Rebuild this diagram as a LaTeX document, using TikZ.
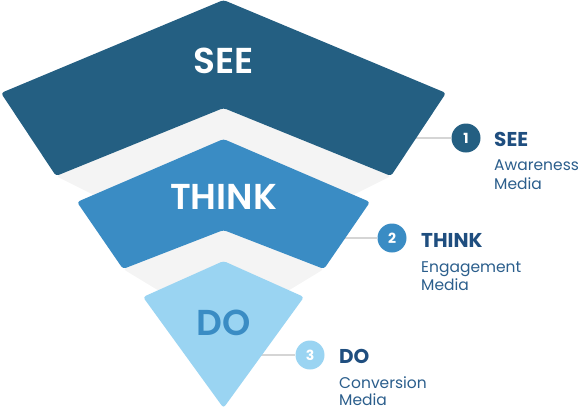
\documentclass[tikz,border=0pt]{standalone}
\usepackage{fontspec}
\setmainfont{Poppins}
\IfFontExistsTF{Poppins SemiBold}{\newfontfamily\semib{Poppins SemiBold}}{\IfFontExistsTF{Poppins Medium}{\newfontfamily\semib{Poppins Medium}}{\newcommand\semib{\bfseries}}}
\definecolor{seec}{HTML}{245F82}
\definecolor{thinkc}{HTML}{3A8CC4}
\definecolor{doc}{HTML}{9AD4F2}
\definecolor{bandc}{HTML}{F4F4F4}
\definecolor{titlec}{HTML}{1F4E7F}
\definecolor{subc}{HTML}{2B5E8C}
\definecolor{leadc}{HTML}{D5D5D5}
\tikzset{
  layer/.style={rounded corners=3pt},
  bigtext/.style={font=\fontsize{36}{40}\selectfont\semib, inner sep=0pt},
  numcirc/.style={circle, minimum size=29pt, inner sep=0pt, text=white, font=\fontsize{14}{16}\selectfont\bfseries},
  ttl/.style={anchor=base west, inner sep=0pt, text=titlec, font=\fontsize{20}{22}\selectfont\bfseries},
  sub/.style={anchor=base west, inner sep=0pt, text=subc, font=\fontsize{15.5}{17}\selectfont},
  lead/.style={draw=leadc, line width=1.5pt}
}
\begin{document}
\begin{tikzpicture}[x=1pt,y=-1pt]
\useasboundingbox (0,0) rectangle (582,408);
% gray bands
\fill[bandc, layer] (56,176) -- (223.5,108) -- (391,176) -- (223.5,260) -- cycle;
\fill[bandc, layer] (123,269) -- (223.5,230) -- (324,269) -- (223.5,330) -- cycle;
% leader start points
\coordinate (e1) at (410,138);
\coordinate (e2) at (340,238);
\coordinate (e3) at (258,355);
\node[numcirc, fill=seec] (c1) at (466,138) {1};
\node[numcirc, fill=thinkc] (c2) at (392,238) {2};
\node[numcirc, fill=doc] (c3) at (310,355) {3};
\draw[lead] (e1) -- (c1);
\draw[lead] (e2) -- (c2);
\draw[lead] (e3) -- (c3);
% layers
\fill[seec, layer] (223.5,0) -- (446,93) -- (391,176) -- (223.5,108) -- (56,176) -- (1,93) -- cycle;
\fill[thinkc, layer] (223.5,139) -- (370,202) -- (324,269) -- (223.5,230) -- (123,269) -- (77,202) -- cycle;
\fill[doc, layer] (223.5,261) -- (304,297) -- (223.5,408) -- (143,297) -- cycle;
\node[bigtext, text=white] (see) at (223.5,60.5) {SEE};
\node[bigtext, text=white] (think) at (223.5,197) {THINK};
\node[bigtext, text=thinkc] (do) at (223.5,323) {DO};
% labels
\node[ttl] (t1) at (494,146) {SEE};
\node[sub] (s1a) at (494,170) {Awareness};
\node[sub] (s1b) at (494,189) {Media};
\node[ttl] (t2) at (421,247) {THINK};
\node[sub] (s2a) at (421,272) {Engagement};
\node[sub] (s2b) at (421,290) {Media};
\node[ttl] (t3) at (339,363) {DO};
\node[sub] (s3a) at (339,388) {Conversion};
\node[sub] (s3b) at (339,405) {Media};
\end{tikzpicture}
\end{document}
